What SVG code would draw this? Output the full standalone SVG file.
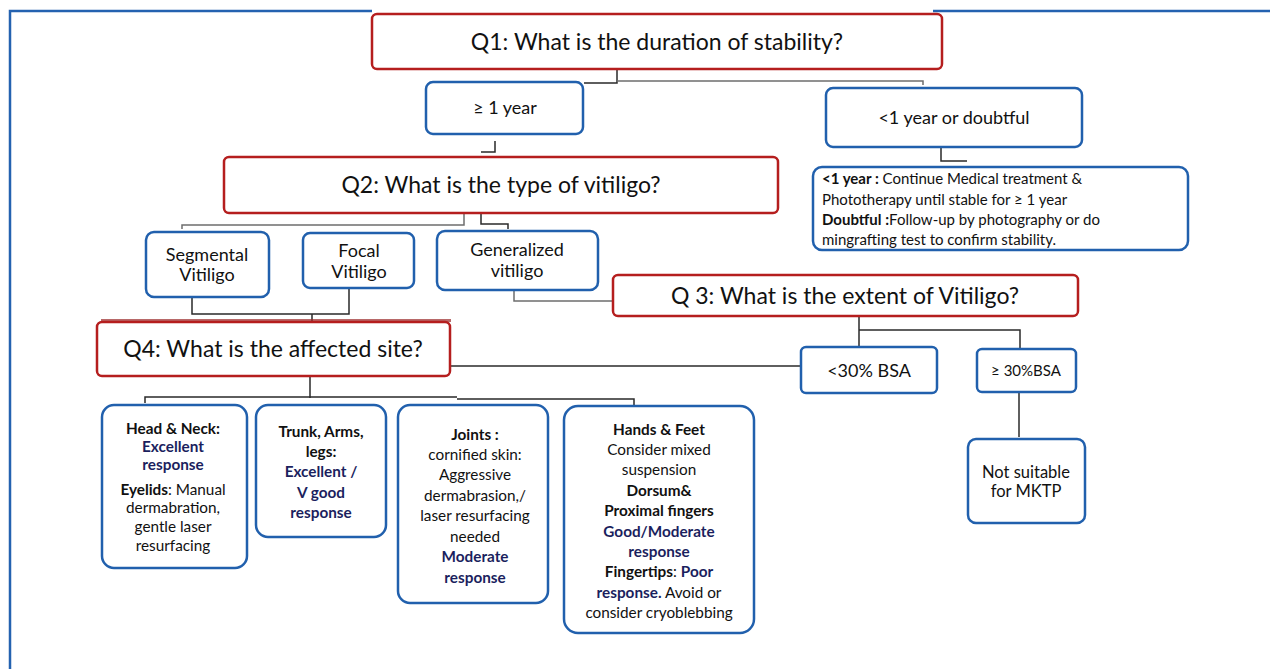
<svg xmlns="http://www.w3.org/2000/svg" width="1270" height="669" viewBox="0 0 1270 669">
<style>
text{font-family:Lato,"Liberation Sans",sans-serif;fill:#111;}
.q{font-size:23px;text-anchor:middle;}
.m{font-size:18px;text-anchor:middle;}
.s{font-size:15.3px;text-anchor:middle;}
.i{font-size:15px;}
.b{font-weight:bold;}
.n{font-weight:bold;fill:#1b1f5e;}
.red{fill:#fff;stroke:#B51E1E;stroke-width:2.5;}
.redsh{fill:none;stroke:#9a2a2a;stroke-width:3;opacity:0.7;}
.blue{fill:#fff;stroke:#2160AD;stroke-width:2.5;}
.c{fill:none;stroke:#2a2a2a;stroke-width:1.5;}
.cg{fill:none;stroke:#6e6e6e;stroke-width:1.5;}
.frame{fill:none;stroke:#2462B0;stroke-width:2.5;}
</style>
<rect width="1270" height="669" fill="#fff"/>
<g id="frame">
<path class="frame" d="M10,669 V11 H372 M933,11 H1270"/>
</g>
<g id="connectors">
<path class="c" d="M617,69 V83 H584"/>
<path class="cg" d="M617,81 H923 V85"/>
<path class="c" d="M495,141 V152 H481"/>
<path class="c" d="M941,148 V161 H967"/>
<path class="cg" d="M464,214 V225 H182 V229"/>
<path class="c" d="M481,214 V224 H508 V229"/>
<path class="cg" d="M514,291 V301 H613"/>
<path class="c" d="M192,297 V314 H349 V288 M312,314 V321"/>
<path class="c" d="M450,366 H800"/>
<path class="c" d="M310,376 V398 M145,403 V397 H457 M457,399 H634 V405"/>
<path class="c" d="M859,316 V348 M859,330 H1020 V349"/>
<path class="c" d="M1019,392 V437"/>
</g>
<g id="q1">
<rect class="red" x="372" y="14" width="570" height="55" rx="5"/>
<text class="q" x="657" y="50">Q1: What is the duration of stability?</text>
</g>
<g id="ge1year">
<rect class="blue" x="426" y="82" width="157" height="52" rx="7"/>
<text class="m" x="505" y="114">≥ 1 year</text>
</g>
<g id="lt1year">
<rect class="blue" x="826" y="88" width="256" height="59" rx="7"/>
<text class="m" x="954" y="124">&lt;1 year or doubtful</text>
</g>
<g id="info">
<rect class="blue" x="813" y="167" width="375" height="83" rx="9"/>
<text class="i" x="822" y="184"><tspan class="b">&lt;1 year :</tspan> Continue Medical treatment &amp;</text>
<text class="i" x="822" y="205">Phototherapy until stable for ≥ 1 year</text>
<text class="i" x="822" y="225"><tspan class="b">Doubtful :</tspan>Follow-up by photography  or do</text>
<text class="i" x="822" y="245">mingrafting test to confirm stability.</text>
</g>
<g id="q2">
<rect class="red" x="224" y="157" width="554" height="56" rx="5"/>
<text class="q" x="501" y="193">Q2: What is the type of vitiligo?</text>
</g>
<g id="segmental">
<rect class="blue" x="146" y="232" width="123" height="65" rx="8"/>
<text class="m" x="207" y="261">Segmental</text>
<text class="m" x="207" y="281">Vitiligo</text>
</g>
<g id="focal">
<rect class="blue" x="303" y="233" width="111" height="55" rx="7"/>
<text class="m" x="359" y="257">Focal</text>
<text class="m" x="359" y="278">Vitiligo</text>
</g>
<g id="generalized">
<rect class="blue" x="437" y="231" width="161" height="59" rx="8"/>
<text class="m" x="517" y="256">Generalized</text>
<text class="m" x="517" y="277">vitiligo</text>
</g>
<g id="q3">
<rect class="red" x="613" y="275" width="465" height="41" rx="5"/>
<text class="q" x="845" y="304">Q 3: What is the extent of Vitiligo?</text>
</g>
<g id="q4">
<path class="redsh" d="M101,320.5 H451"/>
<rect class="red" x="97" y="322" width="353" height="54" rx="5"/>
<text class="q" x="273" y="357">Q4: What is  the affected site?</text>
</g>
<g id="lt30">
<rect class="blue" x="801" y="347" width="136" height="46" rx="5"/>
<text class="m" x="869" y="377">&lt;30% BSA</text>
</g>
<g id="ge30">
<rect class="blue" x="977" y="349" width="99" height="43" rx="5"/>
<text class="s" x="1026" y="376" style="font-size:15px">≥ 30%BSA</text>
</g>
<g id="notsuitable">
<rect class="blue" x="968" y="439" width="117" height="84" rx="8"/>
<text class="m" x="1026" y="478" style="font-size:16.5px">Not suitable</text>
<text class="m" x="1026" y="497" style="font-size:16.5px">for MKTP</text>
</g>
<g id="headneck">
<rect class="blue" x="102" y="405" width="145" height="163" rx="12"/>
<text class="s" x="173" y="434"><tspan class="b">Head &amp; Neck:</tspan></text>
<text class="s n" x="173" y="452">Excellent</text>
<text class="s n" x="173" y="470">response</text>
<text class="s" x="173" y="495"><tspan class="b">Eyelids</tspan>: Manual</text>
<text class="s" x="173" y="513">dermabration,</text>
<text class="s" x="173" y="532">gentle laser</text>
<text class="s" x="173" y="551">resurfacing</text>
</g>
<g id="trunk">
<rect class="blue" x="256" y="405" width="130" height="132" rx="12"/>
<text class="s b" x="321" y="437">Trunk, Arms,</text>
<text class="s b" x="321" y="457">legs:</text>
<text class="s n" x="321" y="477">Excellent /</text>
<text class="s n" x="321" y="498">V good</text>
<text class="s n" x="321" y="518">response</text>
</g>
<g id="joints">
<rect class="blue" x="398" y="405" width="150" height="198" rx="12"/>
<text class="s b" x="475" y="440">Joints :</text>
<text class="s" x="475" y="460">cornified skin:</text>
<text class="s" x="475" y="480">Aggressive</text>
<text class="s" x="475" y="501">dermabrasion,/</text>
<text class="s" x="475" y="521">laser resurfacing</text>
<text class="s" x="475" y="542">needed</text>
<text class="s n" x="475" y="562">Moderate</text>
<text class="s n" x="475" y="583">response</text>
</g>
<g id="handsfeet">
<rect class="blue" x="564" y="406" width="190" height="227" rx="14"/>
<text class="s b" x="659" y="435">Hands &amp; Feet</text>
<text class="s" x="659" y="455">Consider mixed</text>
<text class="s" x="659" y="475">suspension</text>
<text class="s b" x="659" y="496">Dorsum&amp;</text>
<text class="s b" x="659" y="516">Proximal fingers</text>
<text class="s n" x="659" y="537">Good/Moderate</text>
<text class="s n" x="659" y="557">response</text>
<text class="s" x="659" y="577"><tspan class="b">Fingertips</tspan>: <tspan class="n">Poor</tspan></text>
<text class="s" x="659" y="598"><tspan class="n">response.</tspan> Avoid or</text>
<text class="s" x="659" y="618">consider cryoblebbing</text>
</g>
</svg>
